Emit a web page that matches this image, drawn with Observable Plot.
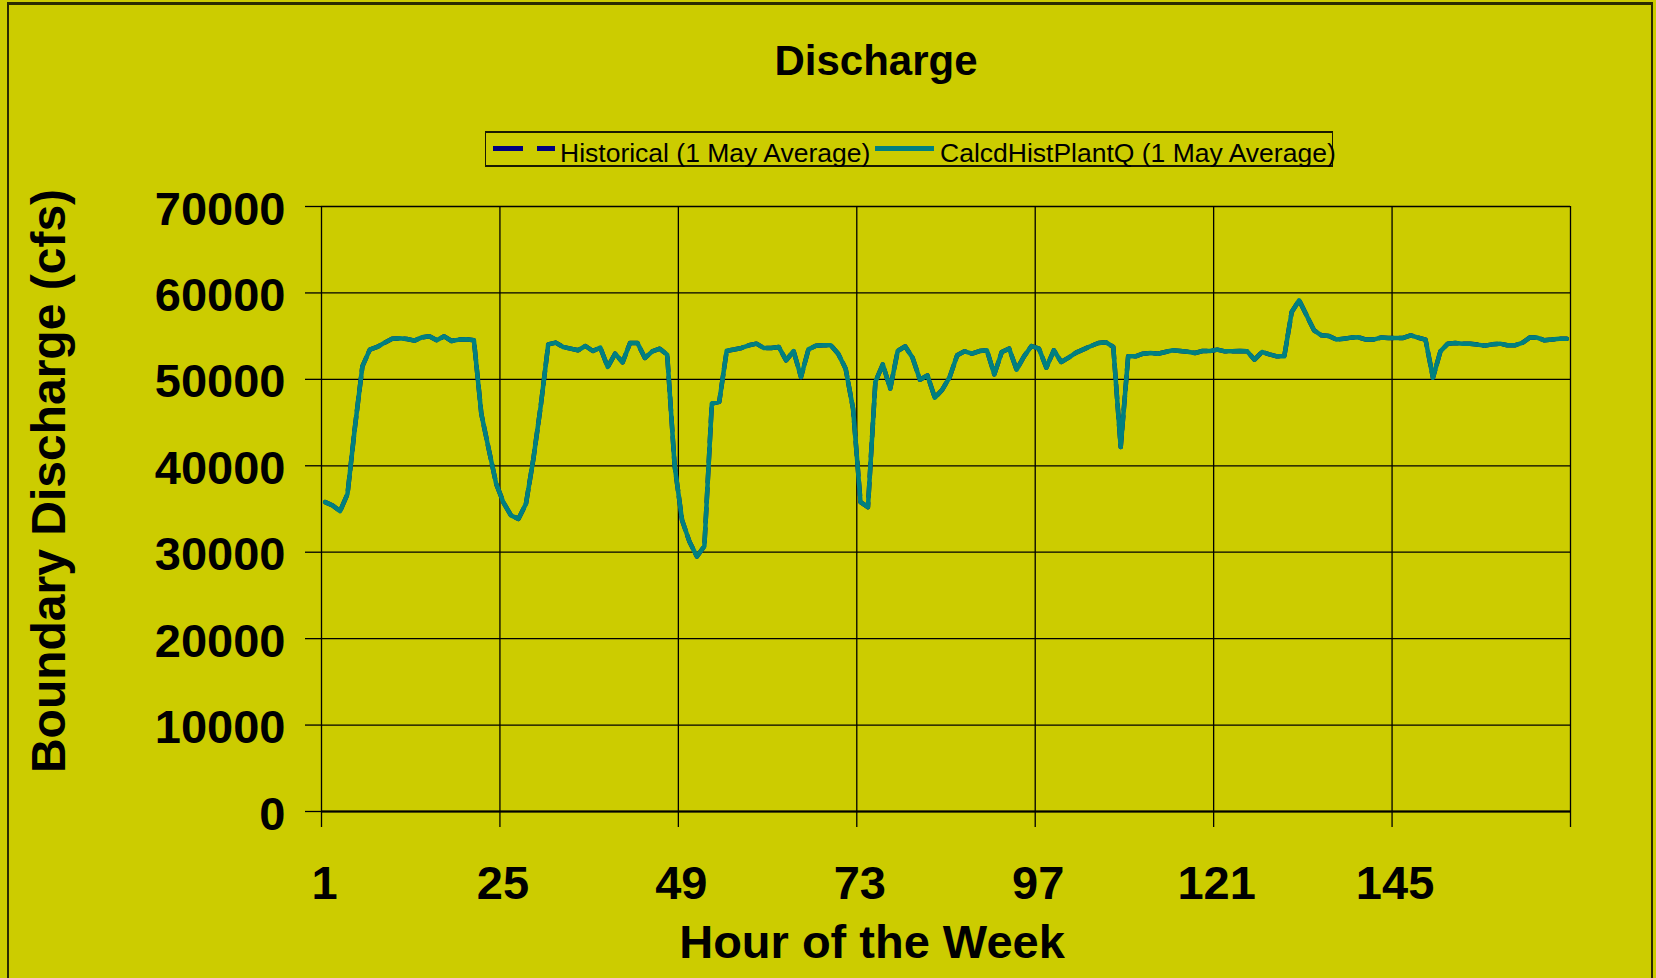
<!DOCTYPE html>
<html>
<head>
<meta charset="utf-8">
<script src="https://cdn.jsdelivr.net/npm/d3@7"></script>
<script src="https://cdn.jsdelivr.net/npm/@observablehq/plot@0.6"></script>
<style>
  html, body { margin: 0; padding: 0; background: #cccc00; }
  #root { position: relative; width: 1656px; height: 978px; overflow: hidden; background: #cccc00;
          font-family: "Liberation Sans", Arial, sans-serif; color: #000; }
  #frame { position: absolute; left: 7px; top: 2px; width: 1642px; height: 1000px;
           border-left: 2px solid #2b2b00; border-top: 3px solid #2b2b00; border-right: 2px solid #2b2b00; }
  #chart { position: absolute; left: 0; top: 0; }
  .t { position: absolute; white-space: nowrap; line-height: 1; }
  #title { left: 876px; top: 40px; font-size: 42px; font-weight: bold; transform: translateX(-50%); }
  #xtitle { left: 872px; top: 918px; font-size: 47px; font-weight: bold; transform: translateX(-50%); }
  #ytitle { left: 49px; top: 481px; font-size: 48px; font-weight: bold; transform: translate(-50%, -50%) rotate(-90deg); }
  #legendbox { position: absolute; left: 485px; top: 131px; width: 846px; height: 32px;
               border: 1px solid #1a1a00; border-top-width: 2px; border-bottom-width: 2px; }
  .lt { font-size: 26.5px; top: 139.6px; }
  .sw { position: absolute; top: 143px; }
</style>
</head>
<body>
<div id="root">
  <div id="frame"></div>
  <div id="chart"></div>
  <div id="title" class="t"></div>
  <div id="legendbox"></div>
  <div id="xtitle" class="t"></div>
  <div id="ytitle" class="t"></div>
</div>
<script>
// ---- data ----
const titleText = "Discharge";
const xTitle = "Hour of the Week";
const yTitle = "Boundary Discharge (cfs)";
const seriesNames = ["Historical (1 May Average)", "CalcdHistPlantQ (1 May Average)"];
const seriesColors = ["#000080", "#008080"];

const hours = Array.from({length: 168}, (_, i) => i + 1);
const xTickLabels = [1, 25, 49, 73, 97, 121, 145, 169];
const yTicks = [0, 10000, 20000, 30000, 40000, 50000, 60000, 70000];

const calcdHistPlantQ = [
  35800, 35400, 34750, 36750, 44500, 51500, 53440, 53750, 54250, 54700,
  54750, 54670, 54480, 54860, 54980, 54520, 54980, 54440, 54600, 54630,
  54520, 46000, 41900, 37900, 35700, 34250, 33860, 35600, 40800, 47000,
  54050, 54250, 53750, 53550, 53360, 53860, 53280, 53670, 51430, 52970,
  51970, 54200, 54200, 52470, 53240, 53550, 52860, 40000, 33700, 31200,
  29500, 30700, 47200, 47400, 53300, 53450, 53630, 53940, 54130, 53630,
  53630, 53750, 52200, 53280, 50270, 53470, 53900, 53940, 53940, 52970,
  51240, 46600, 35790, 35210, 49700, 51740, 48920, 53280, 53820, 52510,
  49960, 50460, 47880, 48800, 50270, 52780, 53240, 52970, 53280, 53360,
  50580, 53170, 53550, 51120, 52660, 53860, 53550, 51350, 53360, 52010,
  52510, 53090, 53470, 53860, 54210, 54290, 53750, 42160, 52660, 52660,
  52970, 53050, 52970, 53170, 53360, 53280, 53200, 53050, 53280, 53280,
  53440, 53240, 53240, 53280, 53240, 52280, 53170, 52900, 52660, 52660,
  57800, 59150, 57410, 55680, 55100, 55020, 54600, 54710, 54830, 54860,
  54600, 54600, 54830, 54790, 54790, 54790, 55100, 54830, 54600, 50190,
  53240, 54130, 54210, 54130, 54130, 54020, 53900, 54050, 54130, 53940,
  53940, 54210, 54830, 54830, 54520, 54600, 54710, 54710
];
const historical = [
  35800, 35400, 34750, 36750, 44500, 51500, 53440, 53750, 54250, 54700,
  54750, 54670, 54480, 54860, 54980, 54520, 54980, 54440, 54600, 54630,
  54520, 46000, 41900, 37900, 35700, 34250, 33860, 35600, 40800, 47000,
  54050, 54250, 53750, 53550, 53360, 53860, 53280, 53670, 51430, 52970,
  51970, 54200, 54200, 52470, 53240, 53550, 52860, 40000, 33700, 31200,
  29500, 30700, 47200, 47400, 53300, 53450, 53630, 53940, 54130, 53630,
  53630, 53750, 52200, 53280, 50270, 53470, 53900, 53940, 53940, 52970,
  51240, 46600, 35790, 35210, 49700, 51740, 48920, 53280, 53820, 52510,
  49960, 50460, 47880, 48800, 50270, 52780, 53240, 52970, 53280, 53360,
  50580, 53170, 53550, 51120, 52660, 53860, 53550, 51350, 53360, 52010,
  52510, 53090, 53470, 53860, 54210, 54290, 53750, 42160, 52660, 52660,
  52970, 53050, 52970, 53170, 53360, 53280, 53200, 53050, 53280, 53280,
  53440, 53240, 53240, 53280, 53240, 52280, 53170, 52900, 52660, 52660,
  57800, 59150, 57410, 55680, 55100, 55020, 54600, 54710, 54830, 54860,
  54600, 54600, 54830, 54790, 54790, 54790, 55100, 54830, 54600, 50190,
  53240, 54130, 54210, 54130, 54130, 54020, 53900, 54050, 54130, 53940,
  53940, 54210, 54830, 54830, 54520, 54600, 54710, 54710
];

// ---- table ----
const rows = hours.map((h, i) => ({hour: h, historical: historical[i], calcd: calcdHistPlantQ[i]}));
// category boundaries (Excel category axis: gridlines between categories)
const xBoundaries = xTickLabels.map(t => t - 0.5);

const chart = Plot.plot({
  width: 1656,
  height: 978,
  marginTop: 206,
  marginBottom: 167,
  marginLeft: 321,
  marginRight: 86,
  style: {background: "transparent", color: "#000", fontFamily: "'Liberation Sans', Arial, sans-serif",
          fontSize: "47px", fontWeight: "bold", overflow: "visible"},
  x: {type: "linear", domain: [0.5, 168.5]},
  y: {domain: [0, 70000]},
  marks: [
    Plot.gridY(yTicks, {stroke: "#000", strokeOpacity: 1, strokeWidth: 1.3}),
    Plot.gridX(xBoundaries, {stroke: "#000", strokeOpacity: 1, strokeWidth: 1.3}),
    Plot.ruleY([0], {stroke: "#000", strokeWidth: 2}),
    // tick marks only
    Plot.axisY(yTicks, {tickSize: 16, label: null, tickFormat: () => "", strokeWidth: 1.3}),
    Plot.axisX(xBoundaries, {tickSize: 16, label: null, tickFormat: () => "", strokeWidth: 1.3}),
    // tick labels only
    Plot.axisY(yTicks, {tickSize: 0, tickPadding: 36, dy: 3, label: null,
      tickFormat: d => String(d), fontSize: 47, fontWeight: "bold"}),
    Plot.axisX(xBoundaries, {tickSize: 0, tickPadding: 54, dx: 3, label: null,
      tickFormat: d => (d + 0.5 <= 168 ? String(d + 0.5) : ""), fontSize: 47, fontWeight: "bold"}),
    Plot.lineY(rows, {x: "hour", y: "historical", stroke: seriesColors[0], strokeWidth: 4.5,
      strokeDasharray: "14,6"}),
    Plot.lineY(rows, {x: "hour", y: "calcd", stroke: seriesColors[1], strokeWidth: 4.5})
  ]
});
document.getElementById("chart").appendChild(chart);

document.getElementById("title").textContent = titleText;
document.getElementById("xtitle").textContent = xTitle;
document.getElementById("ytitle").textContent = yTitle;

// ---- legend ----
const root = document.getElementById("root");
const legendLayout = [
  {sw: 490, swW: 66, dash: "30 14", text: 560},
  {sw: 872, swW: 63, dash: null, text: 940}
];
seriesNames.forEach((name, i) => {
  const L = legendLayout[i];
  const svg = d3.create("svg").attr("class", "sw").attr("width", L.swW).attr("height", 11)
    .style("left", L.sw + "px");
  svg.append("line").attr("x1", 3).attr("x2", L.swW - 1).attr("y1", 5.5).attr("y2", 5.5)
    .attr("stroke", seriesColors[i]).attr("stroke-width", 5)
    .attr("stroke-dasharray", L.dash);
  root.appendChild(svg.node());
  const t = document.createElement("div");
  t.className = "t lt";
  t.style.left = L.text + "px";
  t.textContent = name;
  root.appendChild(t);
});
</script>
</body>
</html>
